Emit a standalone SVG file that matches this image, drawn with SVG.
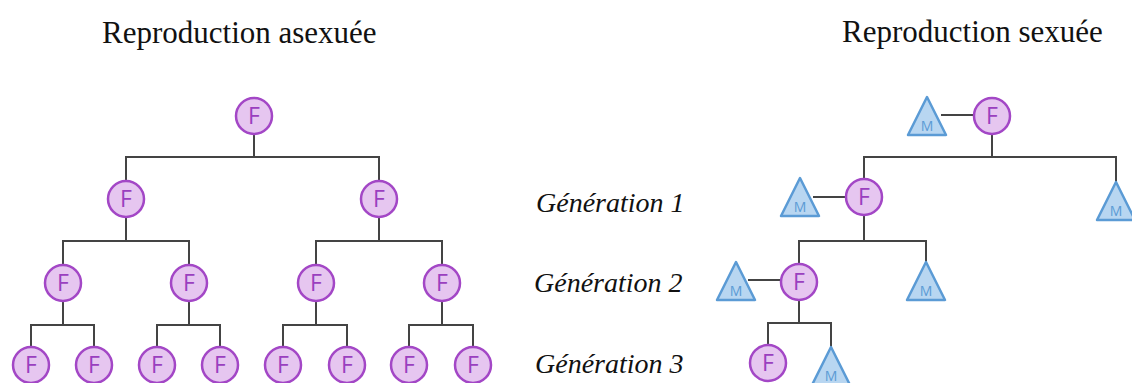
<svg xmlns="http://www.w3.org/2000/svg" width="1132" height="383" viewBox="0 0 1132 383">
<defs>
<style>
.title{font-family:"Liberation Serif",serif;font-size:31px;fill:#111}
.gen{font-family:"Liberation Serif",serif;font-size:28px;font-style:italic;fill:#111}
.fc{fill:#e6c6f0;stroke:#a347c6;stroke-width:2.5}
.ft{font-family:"Open Sans","Noto Sans",sans-serif;font-size:23px;fill:#9a3fbf;text-anchor:middle}
.mt{fill:#b8d6f1;stroke:#5b9bd5;stroke-width:2.5;stroke-linejoin:round}
.mtx{font-family:"Open Sans","Noto Sans",sans-serif;font-size:14px;fill:#5b9bd5;text-anchor:middle}
.ln{fill:none;stroke:#444;stroke-width:2}
</style>
<g id="F"><circle class="fc" r="18"/><text class="ft" y="8.3">F</text></g>
<g id="M"><polygon class="mt" points="0,0 19,38 -19,38"/><text class="mtx" y="34">M</text></g>
</defs>
<rect width="1132" height="383" fill="#fff"/>
<text class="title" x="102" y="43">Reproduction asexuée</text>
<text class="title" x="842" y="42">Reproduction sexuée</text>
<text class="gen" x="536" y="212">Génération 1</text>
<text class="gen" x="534" y="292">Génération 2</text>
<text class="gen" x="535" y="373">Génération 3</text>
<g id="connectors">
<path class="ln" d="M254 134V157M126 181V157H379V181"/>
<path class="ln" d="M126 217V241M63 265V241H189V265M379 217V241M316 265V241H442V265"/>
<path class="ln" d="M63 301V325M31 347V325H94V347M189 301V325M157 347V325H220V347M316 301V325M283 347V325H347V347M442 301V325M409 347V325H473V347"/>
<path class="ln" d="M941 115H974M992 134V157M864 179V157H1116V182M813 197H846M864 215V241M799 264V241H926V262M748 280H781M799 300V323M768 345V323H831V347"/>
</g>
<g id="a0"><use href="#F" x="254" y="116"/></g>
<g id="a1"><use href="#F" x="126" y="199"/></g>
<g id="a2"><use href="#F" x="379" y="199"/></g>
<g id="a3"><use href="#F" x="63" y="283"/></g>
<g id="a4"><use href="#F" x="189" y="283"/></g>
<g id="a5"><use href="#F" x="316" y="283"/></g>
<g id="a6"><use href="#F" x="442" y="283"/></g>
<g id="a7"><use href="#F" x="31" y="365"/></g>
<g id="a8"><use href="#F" x="94" y="365"/></g>
<g id="a9"><use href="#F" x="157" y="365"/></g>
<g id="a10"><use href="#F" x="220" y="365"/></g>
<g id="a11"><use href="#F" x="283" y="365"/></g>
<g id="a12"><use href="#F" x="347" y="365"/></g>
<g id="a13"><use href="#F" x="409" y="365"/></g>
<g id="a14"><use href="#F" x="473" y="365"/></g>
<g id="s0m"><use href="#M" x="927" y="97"/></g>
<g id="s0f"><use href="#F" x="992" y="116"/></g>
<g id="s1m"><use href="#M" x="800" y="178"/></g>
<g id="s1f"><use href="#F" x="864" y="197"/></g>
<g id="s1r"><use href="#M" x="1116" y="182"/></g>
<g id="s2m"><use href="#M" x="736" y="262"/></g>
<g id="s2f"><use href="#F" x="799" y="282"/></g>
<g id="s2r"><use href="#M" x="926" y="262"/></g>
<g id="s3f"><use href="#F" x="768" y="363"/></g>
<g id="s3m"><use href="#M" x="831" y="347"/></g>
</svg>
